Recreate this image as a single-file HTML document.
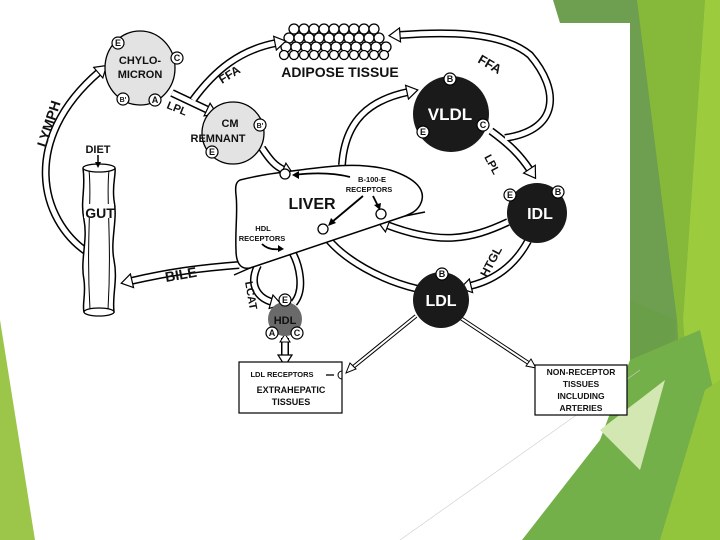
<!DOCTYPE html>
<html><head><meta charset="utf-8"><style>
html,body{margin:0;padding:0;background:#fff}
svg{display:block}
text{font-family:"Liberation Sans",Arial,sans-serif;font-weight:bold;fill:#111}
</style></head><body>
<svg width="720" height="540" viewBox="0 0 720 540" xmlns="http://www.w3.org/2000/svg">
<defs>
<marker id="ah" markerWidth="14" markerHeight="16" refX="2" refY="8" orient="auto" markerUnits="userSpaceOnUse">
<path d="M1,1 L12,8 L1,15 Z" fill="#fff" stroke="#000" stroke-width="1.2"/>
</marker>
</defs>
<rect x="0" y="0" width="720" height="540" fill="#fff"/>
<!-- green decoration -->
<polygon points="553,0 720,0 720,540 630,540 630,23 560,23" fill="#6e9e50"/>
<polygon points="637,0 705,0 683,320 700,540 690,540 677,320" fill="#86b83a"/>
<polygon points="705,0 720,0 720,540 700,540 683,320" fill="#9ccc3e"/>
<polygon points="630,300 676,320 668,420 640,400 630,380" fill="#6a9e48"/>
<polygon points="630,360 700,330 720,420 720,540 522,540 600,440" fill="#74b04a"/>
<polygon points="600,430 665,380 640,470" fill="#d3e7b2"/>
<polygon points="660,540 705,390 720,380 720,540" fill="#92c43c"/>
<polygon points="0,320 35,540 0,540" fill="#9cc64a"/>
<line x1="400" y1="540" x2="640" y2="370" stroke="#ccc" stroke-width="0.6"/>

<!-- adipose cluster -->
<g fill="#fff" stroke="#000" stroke-width="1.3">
<circle cx="294" cy="29" r="5"/><circle cx="304" cy="29" r="5"/><circle cx="314" cy="29" r="5"/><circle cx="324" cy="29" r="5"/><circle cx="334" cy="29" r="5"/><circle cx="344" cy="29" r="5"/><circle cx="354" cy="29" r="5"/><circle cx="364" cy="29" r="5"/><circle cx="374" cy="29" r="5"/>
<circle cx="289" cy="38" r="5"/><circle cx="299" cy="38" r="5"/><circle cx="309" cy="38" r="5"/><circle cx="319" cy="38" r="5"/><circle cx="329" cy="38" r="5"/><circle cx="339" cy="38" r="5"/><circle cx="349" cy="38" r="5"/><circle cx="359" cy="38" r="5"/><circle cx="369" cy="38" r="5"/><circle cx="379" cy="38" r="5"/>
<circle cx="286" cy="47" r="5"/><circle cx="296" cy="47" r="5"/><circle cx="306" cy="47" r="5"/><circle cx="316" cy="47" r="5"/><circle cx="326" cy="47" r="5"/><circle cx="336" cy="47" r="5"/><circle cx="346" cy="47" r="5"/><circle cx="356" cy="47" r="5"/><circle cx="366" cy="47" r="5"/><circle cx="376" cy="47" r="5"/><circle cx="386" cy="47" r="5"/>
<circle cx="284" cy="55" r="4.5"/><circle cx="294" cy="55" r="4.5"/><circle cx="304" cy="55" r="4.5"/><circle cx="314" cy="55" r="4.5"/><circle cx="324" cy="55" r="4.5"/><circle cx="334" cy="55" r="4.5"/><circle cx="344" cy="55" r="4.5"/><circle cx="354" cy="55" r="4.5"/><circle cx="364" cy="55" r="4.5"/><circle cx="374" cy="55" r="4.5"/><circle cx="384" cy="55" r="4.5"/>
</g>
<text x="340" y="77" font-size="14" text-anchor="middle">ADIPOSE TISSUE</text>

<!-- hollow arrows -->
<g fill="none" stroke-linecap="butt">
<g stroke="#000" stroke-width="8">
<path d="M87,252 C40,220 20,140 99,72"/>
<path d="M193,100 C215,70 240,50 276,43"/>
<path d="M172,93 L208,110"/>
<path d="M262,148 C270,160 275,166 284,170"/>
<path d="M342,165 C345,120 370,100 408,92"/>
<path d="M505,138 C560,130 560,90 530,55 C500,30 440,32 399,35"/>
<path d="M491,131 C510,145 520,155 530,170"/>
<path d="M508,222 C470,240 440,245 387,225"/>
<path d="M528,241 C515,265 495,280 470,286"/>
<path d="M418,289 C380,280 345,260 327,238"/>
<path d="M239,265 C200,268 170,272 131,281"/>
<path d="M258,265 C248,285 258,298 272,302"/>
<path d="M294,303 C305,290 300,265 291,250"/>
<path d="M285,338 L285,356"/>
</g>
<g stroke="#fff" stroke-width="5">
<path d="M87,252 C40,220 20,140 99,72" marker-end="url(#ah)"/>
<path d="M193,100 C215,70 240,50 276,43" marker-end="url(#ah)"/>
<path d="M172,93 L208,110" marker-end="url(#ah)"/>
<path d="M262,148 C270,160 275,166 284,170" marker-end="url(#ah)"/>
<path d="M342,165 C345,120 370,100 408,92" marker-end="url(#ah)"/>
<path d="M505,138 C560,130 560,90 530,55 C500,30 440,32 399,35" marker-end="url(#ah)"/>
<path d="M491,131 C510,145 520,155 530,170" marker-end="url(#ah)"/>
<path d="M508,222 C470,240 440,245 387,225" marker-end="url(#ah)"/>
<path d="M528,241 C515,265 495,280 470,286" marker-end="url(#ah)"/>
<path d="M418,289 C380,280 345,260 327,238" marker-end="url(#ah)"/>
<path d="M239,265 C200,268 170,272 131,281" marker-end="url(#ah)"/>
<path d="M258,265 C248,285 258,298 272,302" marker-end="url(#ah)"/>
<path d="M294,303 C305,290 300,265 291,250" marker-end="url(#ah)"/>
<path d="M285,338 L285,356" marker-end="url(#ah)"/>
</g>
</g>
<polygon points="285,334 280,342 290,342" fill="#fff" stroke="#000"/>
<!-- LDL thin arrows -->
<g stroke="#000" stroke-width="4" fill="none"><path d="M416,316 L352,368"/><path d="M459,317 L530,364"/></g>
<g stroke="#fff" stroke-width="2" fill="none"><path d="M416,316 L352,368"/><path d="M459,317 L530,364"/></g>
<polygon points="346,373 350,363 356,369" fill="#fff" stroke="#000"/>
<polygon points="536,368 526,366 531,359" fill="#fff" stroke="#000"/>

<!-- gut -->
<path d="M83,168 C86,190 80,200 84,220 C88,240 80,260 84,280 C86,295 82,305 84,312 L114,312 C112,295 118,280 114,260 C110,240 118,220 114,200 C112,185 116,175 115,168" fill="#fff" stroke="#000" stroke-width="1.5"/>
<path d="M89,170 C92,200 86,240 90,310 M109,170 C106,200 112,240 108,310" fill="none" stroke="#000" stroke-width="1"/>
<ellipse cx="99" cy="168" rx="16" ry="4" fill="#fff" stroke="#000" stroke-width="1.3"/>
<ellipse cx="99" cy="312" rx="15" ry="4" fill="#fff" stroke="#000" stroke-width="1.3"/>
<line x1="98" y1="155" x2="98" y2="166" stroke="#000" stroke-width="1.5"/>
<polygon points="95,162 101,162 98,168" fill="#000"/>
<text x="98" y="153" font-size="11" text-anchor="middle">DIET</text>
<rect x="84" y="204" width="30" height="14" fill="#fff"/>
<text x="100" y="218" font-size="14" text-anchor="middle">GUT</text>

<!-- liver -->
<path d="M240,180 C260,175 275,173 300,170 C330,166 360,162 390,170 C415,178 428,190 420,205 C416,212 410,214 405,216 L250,268 C240,270 236,262 236,250 C235,230 238,210 236,195 C235,186 236,182 240,180 Z" fill="#fff" stroke="#000" stroke-width="1.5"/>
<line x1="234" y1="275" x2="250" y2="268" stroke="#000" stroke-width="1.5"/>
<line x1="405" y1="216" x2="425" y2="212" stroke="#000" stroke-width="1.5"/>
<g fill="#fff" stroke="#000" stroke-width="1.3">
<circle cx="285" cy="174" r="5"/><circle cx="381" cy="214" r="5"/><circle cx="323" cy="229" r="5"/>
</g>
<text x="312" y="209" font-size="16" text-anchor="middle">LIVER</text>
<text x="372" y="182" font-size="7.5" text-anchor="middle">B-100-E</text>
<text x="369" y="192" font-size="7.5" text-anchor="middle">RECEPTORS</text>
<text x="263" y="231" font-size="7.5" text-anchor="middle">HDL</text>
<text x="262" y="241" font-size="7.5" text-anchor="middle">RECEPTORS</text>
<g stroke="#000" stroke-width="1.8" fill="none">
<path d="M350,177 C330,172 310,173 294,175"/>
<path d="M363,196 L332,222"/>
<path d="M373,196 L378,206"/>
<path d="M262,244 C266,248 272,250 280,249"/>
</g>
<g fill="#000"><polygon points="292,175 299,171 299,179"/><polygon points="328,226 331,218 336,223"/><polygon points="380,210 374,205 381,203"/><polygon points="284,249 278,245 278,252"/></g>

<!-- particles -->
<ellipse cx="140" cy="68" rx="35" ry="37" fill="#e3e3e3" stroke="#000" stroke-width="1.3"/>
<text x="140" y="64" font-size="11" text-anchor="middle">CHYLO-</text>
<text x="140" y="78" font-size="11" text-anchor="middle">MICRON</text>
<ellipse cx="233" cy="133" rx="31" ry="31" fill="#e3e3e3" stroke="#000" stroke-width="1.3"/>
<text x="230" y="127" font-size="11" text-anchor="middle">CM</text>
<text x="218" y="142" font-size="11" text-anchor="middle">REMNANT</text>
<ellipse cx="451" cy="114" rx="38" ry="38" fill="#1a1a1a"/>
<text x="450" y="120" font-size="17" text-anchor="middle" style="fill:#fff">VLDL</text>
<ellipse cx="537" cy="213" rx="30" ry="30" fill="#1a1a1a"/>
<text x="540" y="219" font-size="16" text-anchor="middle" style="fill:#fff">IDL</text>
<ellipse cx="441" cy="300" rx="28" ry="28" fill="#1a1a1a"/>
<text x="441" y="306" font-size="16" text-anchor="middle" style="fill:#fff">LDL</text>
<ellipse cx="285" cy="319" rx="17" ry="17" fill="#6a6a6a"/>
<text x="285" y="324" font-size="11" text-anchor="middle">HDL</text>

<!-- apo circles -->
<g font-size="9" text-anchor="middle">
<g fill="#fff" stroke="#000" stroke-width="1.2">
<circle cx="118" cy="43" r="6"/><circle cx="177" cy="58" r="6"/><circle cx="123" cy="99" r="6"/><circle cx="155" cy="100" r="6"/>
<circle cx="260" cy="125" r="6"/><circle cx="212" cy="152" r="6"/>
<circle cx="450" cy="79" r="6"/><circle cx="423" cy="132" r="6"/><circle cx="483" cy="125" r="6"/>
<circle cx="510" cy="195" r="6"/><circle cx="558" cy="192" r="6"/>
<circle cx="442" cy="274" r="6"/>
<circle cx="285" cy="300" r="6"/><circle cx="272" cy="333" r="6"/><circle cx="297" cy="333" r="6"/>
</g>
<text x="118" y="46">E</text><text x="177" y="61">C</text><text x="123" y="102" font-size="7">B'</text><text x="155" y="103">A</text>
<text x="260" y="128" font-size="7">B'</text><text x="212" y="155">E</text>
<text x="450" y="82">B</text><text x="423" y="135">E</text><text x="483" y="128">C</text>
<text x="510" y="198">E</text><text x="558" y="195">B</text>
<text x="442" y="277">B</text>
<text x="285" y="303">E</text><text x="272" y="336">A</text><text x="297" y="336">C</text>
</g>

<!-- rotated labels -->
<text font-size="14" transform="translate(46,148) rotate(-72)">LYMPH</text>
<text font-size="12" transform="translate(222,84) rotate(-32)">FFA</text>
<text font-size="11" transform="translate(166,108) rotate(22)">LPL</text>
<text font-size="13" transform="translate(477,62) rotate(30)">FFA</text>
<text font-size="11" transform="translate(484,157) rotate(62)">LPL</text>
<text font-size="12" transform="translate(487,278) rotate(-62)">HTGL</text>
<text font-size="14" transform="translate(166,282) rotate(-10)">BILE</text>
<text font-size="11" transform="translate(245,282) rotate(80)">LCAT</text>

<!-- boxes -->
<rect x="239" y="362" width="103" height="51" fill="#fff" stroke="#000" stroke-width="1.2"/>
<text x="282" y="377" font-size="7.5" text-anchor="middle">LDL RECEPTORS</text>
<line x1="326" y1="375" x2="334" y2="375" stroke="#000" stroke-width="1.3"/>
<path d="M342,371 A4,4 0 0 0 342,379" fill="none" stroke="#000"/>
<text x="291" y="393" font-size="9" text-anchor="middle">EXTRAHEPATIC</text>
<text x="291" y="405" font-size="9" text-anchor="middle">TISSUES</text>
<rect x="535" y="365" width="92" height="50" fill="#fff" stroke="#000" stroke-width="1.2"/>
<text x="581" y="375" font-size="8.5" text-anchor="middle">NON-RECEPTOR</text>
<text x="581" y="387" font-size="8.5" text-anchor="middle">TISSUES</text>
<text x="581" y="399" font-size="8.5" text-anchor="middle">INCLUDING</text>
<text x="581" y="411" font-size="8.5" text-anchor="middle">ARTERIES</text>
</svg>
</body></html>
